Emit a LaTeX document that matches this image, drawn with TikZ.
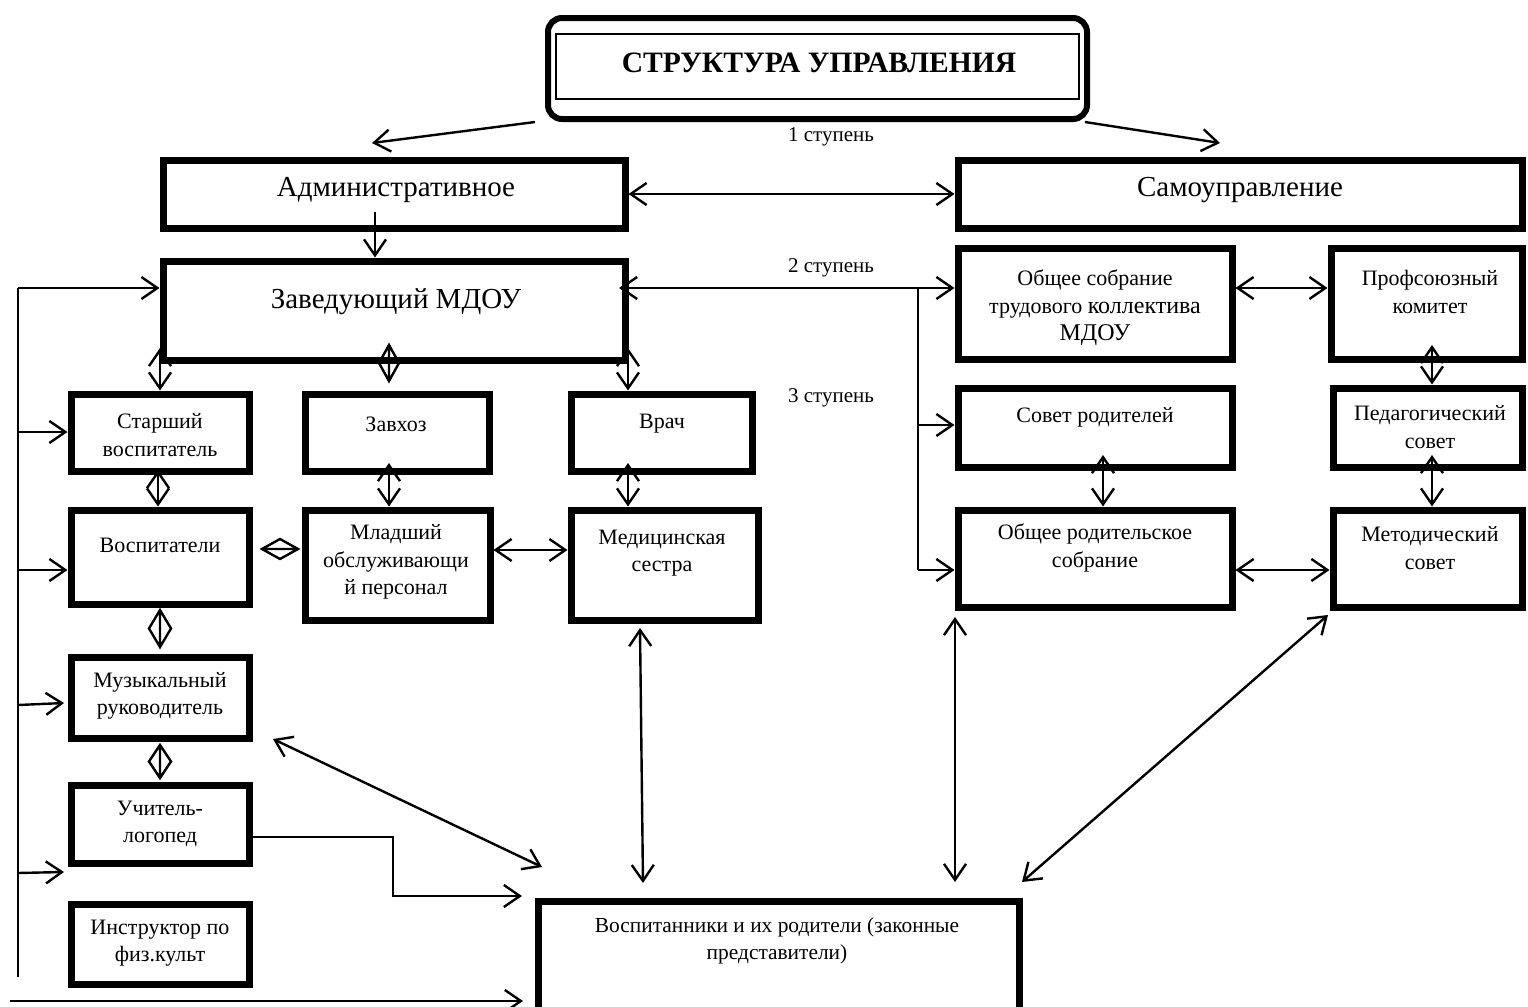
\documentclass[tikz,border=0pt]{standalone}
\usepackage{fontspec}
\setmainfont{Liberation Serif}
\usetikzlibrary{arrows.meta,fit}
\newcommand\vdiam[4]{\draw[dia] (#1,#2) -- (#1+#4,{(#2+#3)/2}) -- (#1,#3) -- (#1-#4,{(#2+#3)/2}) -- cycle (#1,#2) -- (#1,#3);}
\newcommand\hdiam[4]{\draw[dia] (#2,#1) -- ({(#2+#3)/2},#1+#4) -- (#3,#1) -- ({(#2+#3)/2},#1-#4) -- cycle (#2,#1) -- (#3,#1);}
\begin{document}
\begin{tikzpicture}[x=0.5pt,y=-0.5pt,
  box/.style={draw, line width=3.5pt, inner sep=0pt},
  txt/.style={align=center, inner sep=0pt, font=\fontsize{11}{13.75}\selectfont},
  big/.style={align=center, inner sep=0pt, font=\fontsize{14.5}{17}\selectfont},
  lvl/.style={inner sep=0pt, font=\fontsize{10.5}{12}\selectfont},
  tip/.style={line width=1.2pt, -{Straight Barb[length=8pt,width=11pt]}},
  dtip/.style={line width=1.2pt, {Straight Barb[length=8pt,width=11pt]}-{Straight Barb[length=8pt,width=11pt]}},
  ln/.style={line width=1.2pt},
  dia/.style={line width=1.2pt, line join=miter}]
\useasboundingbox (0,0) rectangle (1528,1007);
% title
\node[draw, line width=3pt, rounded corners=7pt, inner sep=0pt, fit={(548,18)(1087,119)}] (tout) {};
\node[draw, line width=1pt, inner sep=0pt, fit={(556,34)(1079,99)}] (tin) {};
\node[inner sep=0pt, font=\fontsize{14.8}{17}\selectfont\bfseries] (ttl) at (819,63) {СТРУКТУРА УПРАВЛЕНИЯ};
\node[lvl] (l1) at (831,137) {1 ступень};
\node[lvl] (l2) at (831,268) {2 ступень};
\node[lvl] (l3) at (831,398) {3 ступень};
% top level
\node[box, fit={(163,160)(625,228)}] (adm) {};
\node[big] (admt) at (396,190) {Административное};
\node[box, fit={(958,160)(1522,228)}] (sam) {};
\node[big] (samt) at (1240,190) {Самоуправление};
\node[box, fit={(163,261)(625,360)}] (zav) {};
\node[big] (zavt) at (396,302) {Заведующий МДОУ};
% right side
\node[box, fit={(958,248)(1232,359)}] (obs) {};
\node[txt] (obst) at (1095,308) {Общее собрание\\трудового {\fontsize{12}{13.75}\selectfont коллектива}\\{\fontsize{12}{13.75}\selectfont МДОУ}};
\node[box, fit={(1331,248)(1522,359)}] (prof) {};
\node[txt] (proft) at (1430,292) {Профсоюзный\\комитет};
\node[box, fit={(958,388)(1232,467)}] (sovr) {};
\node[txt] (sovrt) at (1095,417) {Совет родителей};
\node[box, fit={(1333,388)(1522,467)}] (ped) {};
\node[txt] (pedt) at (1430,427) {Педагогический\\совет};
\node[box, fit={(958,510)(1232,607)}] (obr) {};
\node[txt] (obrt) at (1095,548) {Общее родительское\\собрание};
\node[box, fit={(1333,510)(1522,607)}] (met) {};
\node[txt] (mett) at (1430,548) {Методический\\совет};
% left side
\node[box, fit={(71,394)(249,471)}] (star) {};
\node[txt] (start) at (160,435) {Старший\\воспитатель};
\node[box, fit={(305,394)(489,471)}] (zavh) {};
\node[txt] (zavht) at (396,424) {Завхоз};
\node[box, fit={(571,394)(752,471)}] (vrach) {};
\node[txt] (vracht) at (662,424) {Врач};
\node[box, fit={(71,510)(249,604)}] (vosp) {};
\node[txt] (vospt) at (160,545) {Воспитатели};
\node[box, fit={(305,510)(490,620)}] (mlad) {};
\node[txt] (mladt) at (396,562) {Младший\\обслуживающи\\й персонал};
\node[box, fit={(571,510)(758,620)}] (med) {};
\node[txt] (medt) at (662,553) {Медицинская\\сестра};
\node[box, fit={(71,657)(249,738)}] (muz) {};
\node[txt] (muzt) at (160,696) {Музыкальный\\руководитель};
\node[box, fit={(71,785)(249,863)}] (uch) {};
\node[txt] (ucht) at (160,824) {Учитель-\\логопед};
\node[box, fit={(71,904)(249,984)}] (instr) {};
\node[txt] (instrt) at (160,943) {Инструктор по\\физ.культ};
\node[box, fit={(538,901)(1019,1030)}] (vsp) {};
\node[txt, font=\fontsize{10.7}{13.75}\selectfont] (vspt) at (777,941) {Воспитанники и их родители (законные\\представители)};
% connectors top
\coordinate (c1a) at (535,122); \coordinate (c1b) at (372,143);
\coordinate (c2a) at (1085,122); \coordinate (c2b) at (1220,143);
\draw[tip] (c1a) -- (c1b);
\draw[tip] (c2a) -- (c2b);
\draw[dtip] (adm.east) -- (sam.west);
\coordinate (c3) at (375,212);
\draw[tip] (c3) -- (zav.north -| c3);
\coordinate (zr) at (619,288);
\draw[dtip] (zr) -- (obs.west |- zr);
\coordinate (bus) at (918,288);
\draw[ln] (bus) -- (918,570);
\draw[tip] (918,425) -- (sovr.west |- 0,425);
\draw[tip] (918,570) -- (obr.west |- 0,570);
\draw[dtip] (obs.east |- zr) -- (prof.west |- zr);
\draw[dtip] (1432,345) -- (ped.north -| 1432,0);
\draw[dtip] (1103,455) -- (obr.north -| 1103,0);
\draw[dtip] (1432,455) -- (met.north -| 1432,0);
\draw[dtip] (obr.east |- 0,570) -- (met.west |- 0,570);
% left tree
\draw[dtip] (160,348) -- (star.north -| 160,0);
\vdiam{389}{345}{381}{10}
\draw[dtip] (628,348) -- (vrach.north -| 628,0);
\draw[dtip] (158,470) -- (vosp.north -| 158,0);
\draw[dtip] (389,463) -- (mlad.north -| 389,0);
\draw[dtip] (628,463) -- (med.north -| 628,0);
\hdiam{549}{262}{298}{10}
\draw[dtip] (mlad.east |- 0,550) -- (med.west |- 0,550);
\vdiam{160}{610}{647}{11}
\vdiam{160}{745}{778}{11}
% to bottom box
\coordinate (m1) at (640,628); \coordinate (m2) at (643,883);
\draw[dtip] (m1) -- (m2);
\coordinate (o1) at (955,617); \coordinate (o2) at (955,882);
\draw[dtip] (o1) -- (o2);
\coordinate (t1) at (1328,615); \coordinate (t2) at (1022,882);
\draw[dtip] (t1) -- (t2);
\coordinate (u1) at (273,739); \coordinate (u2) at (542,867);
\draw[dtip] (u1) -- (u2);
\coordinate (lg) at (393,837);
\draw[tip] (uch.east |- lg) -- (lg) -- (393,896) -- (522,896);
% left bus
\coordinate (lb) at (18,288);
\draw[ln] (lb) -- (18,977);
\draw[tip] (lb) -- (zav.west |- lb);
\draw[tip] (18,432) -- (star.west |- 0,432);
\draw[tip] (18,570) -- (vosp.west |- 0,570);
\draw[tip] (18,705) -- (64,703);
\draw[tip] (18,873) -- (64,872);
\coordinate (bb) at (10,1001);
\draw[tip] (bb) -- (523,1001);
\end{tikzpicture}
\end{document}
